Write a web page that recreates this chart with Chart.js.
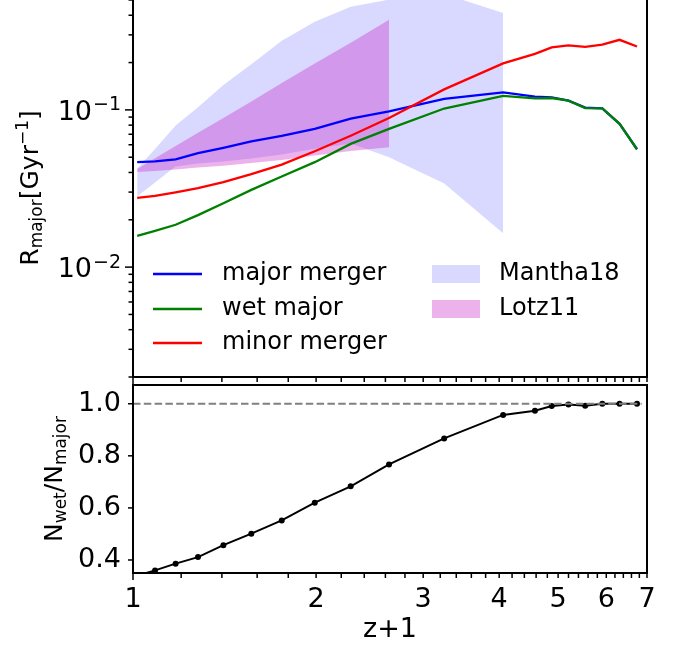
<!DOCTYPE html>
<html>
<head>
<meta charset="utf-8">
<script src="https://cdn.jsdelivr.net/npm/chart.js@4.4.0/dist/chart.umd.min.js"></script>
<style>
  body { margin: 0; background: #fff; }
  #wrap { position: relative; width: 680px; height: 645px; }
  canvas { position: absolute; left: 0; }
  #top { top: 0; }
  #bot { top: 380px; }
</style>
</head>
<body>
<div id="wrap">
  <canvas id="top" width="680" height="386"></canvas>
  <canvas id="bot" width="680" height="265"></canvas>
</div>
<script>
/* ===== DATA ===== */
const zp1        = [1.016, 1.087, 1.175, 1.279, 1.408, 1.565, 1.756, 1.99, 2.28, 2.636, 3.248, 4.06, 4.58, 4.88, 5.20, 5.54, 5.91, 6.31, 6.74];
const majorRate  = [0.0465, 0.0471, 0.0485, 0.053, 0.0574, 0.063, 0.0684, 0.0757, 0.088, 0.098, 0.1175, 0.1294, 0.1214, 0.120, 0.1146, 0.1034, 0.1023, 0.0815, 0.0562];
const wetRate    = [0.0158, 0.0170, 0.0186, 0.0214, 0.0255, 0.0310, 0.0377, 0.0465, 0.0608, 0.0757, 0.102, 0.1227, 0.1185, 0.119, 0.1146, 0.1027, 0.1023, 0.0815, 0.0562];
const minorRate  = [0.0276, 0.0284, 0.0299, 0.0318, 0.0347, 0.039, 0.0449, 0.0546, 0.0684, 0.0889, 0.135, 0.1977, 0.227, 0.25, 0.257, 0.252, 0.26, 0.279, 0.253];
const wetRatio   = [0.34, 0.36, 0.386, 0.411, 0.457, 0.501, 0.552, 0.620, 0.683, 0.767, 0.867, 0.957, 0.973, 0.991, 0.997, 0.992, 1.0, 1.0, 1.0];
const manthaHi   = [0.0424, 0.0564, 0.0795, 0.104, 0.144, 0.195, 0.275, 0.364, 0.453, 0.503, 0.547, 0.413];
const manthaLo   = [0.0281, 0.0345, 0.0436, 0.0456, 0.0470, 0.0491, 0.0520, 0.0567, 0.0611, 0.0500, 0.0340, 0.0164];
const lotzHi     = [0.0421, 0.0492, 0.0590, 0.0715, 0.0887, 0.113, 0.148, 0.197, 0.267, 0.375];
const lotzLo     = [0.0402, 0.0409, 0.0418, 0.0430, 0.0442, 0.0459, 0.0480, 0.0513, 0.0547, 0.0578];
const unityLine  = [[1, 1.0], [6.86, 1.0]];

const xTickVals   = [1, 2, 3, 4, 5, 6, 7];
const xTickLabels = ['1', '2', '3', '4', '5', '6', '7'];
const rateTickVals = [0.01, 0.1];
const rateTickExps = ['\u22122', '\u22121'];
const ratioTickVals   = [0.4, 0.6, 0.8, 1.0];
const ratioTickLabels = ['0.4', '0.6', '0.8', '1.0'];
const legendLines = ['major merger', 'wet major', 'minor merger'];
const legendBands = ['Mantha18', 'Lotz11'];

/* ===== STYLE ===== */
const FONT = '"DejaVu Sans", sans-serif';
const BLUE = '#0000ff', GREEN = '#008000', RED = '#ff0000';
const MANTHA_FILL = 'rgba(0,0,255,0.15)';
const LOTZ_FILL = 'rgba(191,0,191,0.3)';
const CLEAR = 'rgba(0,0,0,0)';

// minor tick positions every 0.2 in z+1, and 2..9 x decade on the rate axis
const xMinor = [];
for (let i = 0; i <= 30; i++) xMinor.push(+(1 + 0.2 * i).toFixed(1));
const yMinor = [];
[-3, -2, -1].forEach(e => { for (let k = 1; k <= 9; k++) { const v = k * Math.pow(10, e); if (v >= 0.002 && v <= 0.5) yMinor.push(v); } });

function pts(ys) { return ys.map((y, i) => ({ x: zp1[i], y })); }

function band(data, fill, bg, order) {
  return { data: pts(data), fill, backgroundColor: bg, borderColor: CLEAR, borderWidth: 0,
           pointRadius: 0, order };
}
function line(data, color, order) {
  return { data: pts(data), borderColor: color, borderWidth: 2.3, pointRadius: 0, fill: false,
           tension: 0, order };
}

function seg(ctx, x1, y1, x2, y2) { ctx.beginPath(); ctx.moveTo(x1, y1); ctx.lineTo(x2, y2); ctx.stroke(); }

// rotated label with sub/superscripts, centred on cy, baseline at bx
function rotLabel(ctx, parts, bx, cy) {
  ctx.save();
  ctx.fillStyle = '#000';
  ctx.textBaseline = 'alphabetic';
  ctx.textAlign = 'left';
  let total = 0;
  parts.forEach(p => { ctx.font = p.s + 'px ' + FONT; p.w = ctx.measureText(p.t).width; total += p.w; });
  ctx.translate(bx, cy);
  ctx.rotate(-Math.PI / 2);
  let x = -total / 2;
  parts.forEach(p => { ctx.font = p.s + 'px ' + FONT; ctx.fillText(p.t, x, p.dy); x += p.w; });
  ctx.restore();
}

function fitY(s) { s.width = 133; s.paddingTop = 0; s.paddingBottom = 0; }

/* ===== TOP PANEL ===== */
const topDeco = {
  id: 'topDeco',
  afterDatasetsDraw(chart) {
    const { ctx, chartArea: a, scales: { x, y } } = chart;
    ctx.save();
    ctx.strokeStyle = '#000';
    ctx.lineWidth = 1.5;
    xMinor.forEach(v => { const px = x.getPixelForValue(v); seg(ctx, px, a.bottom, px, a.bottom + (v === 1 ? 7 : 5)); });
    yMinor.forEach(v => {
      const py = y.getPixelForValue(v);
      const major = rateTickVals.some(m => Math.abs(m - v) < 1e-9);
      seg(ctx, a.left - (major ? 8 : 4.5), py, a.left, py);
    });
    ctx.lineWidth = 2;
    ctx.beginPath();
    ctx.moveTo(a.left, a.top); ctx.lineTo(a.left, a.bottom); ctx.lineTo(a.right, a.bottom); ctx.lineTo(a.right, a.top);
    ctx.stroke();

    // y tick labels 10^-2, 10^-1
    ctx.fillStyle = '#000';
    ctx.textBaseline = 'alphabetic';
    rateTickVals.forEach((v, i) => {
      const py = y.getPixelForValue(v);
      ctx.font = '19px ' + FONT;
      const ws = ctx.measureText(rateTickExps[i]).width;
      ctx.fillText(rateTickExps[i], 121 - ws, py + 0.5);
      ctx.font = '27px ' + FONT;
      const wm = ctx.measureText('10').width;
      ctx.fillText('10', 121 - ws - wm - 1, py + 10);
    });

    // legend
    const rows = [274, 309, 343];
    [BLUE, GREEN, RED].forEach((c, i) => {
      ctx.strokeStyle = c; ctx.lineWidth = 2.3;
      seg(ctx, 153, rows[i], 202, rows[i]);
    });
    ctx.fillStyle = MANTHA_FILL; ctx.fillRect(432, 265, 48, 18);
    ctx.fillStyle = LOTZ_FILL;   ctx.fillRect(432, 300, 48, 18);
    ctx.fillStyle = '#000';
    ctx.font = '24px ' + FONT;
    ctx.textBaseline = 'middle';
    legendLines.forEach((t, i) => ctx.fillText(t, 222, rows[i]));
    legendBands.forEach((t, i) => ctx.fillText(t, 499, rows[i]));
    ctx.restore();

    rotLabel(ctx, [
      { t: 'R', s: 25, dy: 0 }, { t: 'major', s: 17, dy: 4 }, { t: '[Gyr', s: 25, dy: 0 },
      { t: '\u22121', s: 17, dy: -10 }, { t: ']', s: 25, dy: 0 }
    ], 38, 188);
  }
};

new Chart(document.getElementById('top'), {
  type: 'line',
  data: {
    datasets: [
      band(manthaHi, '+1', MANTHA_FILL, 10),
      band(manthaLo, false, CLEAR, 10),
      band(lotzHi, '+1', LOTZ_FILL, 9),
      band(lotzLo, false, CLEAR, 9),
      line(majorRate, BLUE, 3),
      line(wetRate, GREEN, 2),
      line(minorRate, RED, 1)
    ]
  },
  options: {
    responsive: false, animation: false, devicePixelRatio: 1,
    layout: { padding: { left: 0, right: 33, top: 0, bottom: 0 } },
    plugins: { legend: { display: false }, tooltip: { enabled: false } },
    scales: {
      x: {
        type: 'logarithmic', min: 1, max: 7, position: 'bottom',
        grid: { display: false }, border: { display: false },
        ticks: { display: false },
        afterFit(s) { s.height = 386 - 377; s.paddingLeft = 0; s.paddingRight = 0; }
      },
      y: {
        type: 'logarithmic', min: 0.002, max: 0.5,
        grid: { display: false }, border: { display: false },
        afterBuildTicks(s) { s.ticks = rateTickVals.map(v => ({ value: v })); },
        ticks: { display: false },
        afterFit: fitY
      }
    }
  },
  plugins: [topDeco]
});

/* ===== BOTTOM PANEL ===== */
const botDeco = {
  id: 'botDeco',
  afterDatasetsDraw(chart) {
    const { ctx, chartArea: a, scales: { x, y } } = chart;
    ctx.save();
    ctx.strokeStyle = '#000';
    ctx.lineWidth = 1.5;
    xMinor.forEach(v => { const px = x.getPixelForValue(v); seg(ctx, px, a.bottom, px, a.bottom + (v === 1 ? 7 : 5)); });
    ratioTickVals.forEach(v => { const py = y.getPixelForValue(v); seg(ctx, a.left - 5, py, a.left, py); });
    ctx.lineWidth = 2;
    ctx.strokeRect(a.left, a.top, a.right - a.left, a.bottom - a.top);

    ctx.fillStyle = '#000';
    ctx.font = '27px ' + FONT;
    ctx.textAlign = 'center';
    ctx.textBaseline = 'alphabetic';
    ctx.fillText('z+1', (a.left + a.right) / 2, 257);
    ctx.restore();

    rotLabel(ctx, [
      { t: 'N', s: 25, dy: 0 }, { t: 'wet', s: 17, dy: 4 }, { t: '/N', s: 25, dy: 0 },
      { t: 'major', s: 17, dy: 4 }
    ], 62, (a.top + a.bottom) / 2);
  }
};

new Chart(document.getElementById('bot'), {
  type: 'line',
  data: {
    datasets: [
      { data: unityLine.map(p => ({ x: p[0], y: p[1] })), borderColor: '#808080', borderWidth: 2,
        borderDash: [7.5, 3.3], pointRadius: 0, fill: false, order: 0 },
      { data: pts(wetRatio), borderColor: '#000', borderWidth: 2, pointRadius: 3,
        pointBackgroundColor: '#000', pointBorderWidth: 0, fill: false, order: 1 }
    ]
  },
  options: {
    responsive: false, animation: false, devicePixelRatio: 1,
    layout: { padding: { left: 0, right: 33, top: 5, bottom: 0 } },
    plugins: { legend: { display: false }, tooltip: { enabled: false } },
    scales: {
      x: {
        type: 'logarithmic', min: 1, max: 7, position: 'bottom',
        grid: { display: false, drawTicks: true, tickLength: 7 }, border: { display: false },
        afterBuildTicks(s) { s.ticks = xTickVals.map(v => ({ value: v })); },
        ticks: {
          autoSkip: false, maxRotation: 0, padding: 4, color: '#000', font: { family: FONT, size: 27 },
          callback: (v) => xTickLabels[xTickVals.indexOf(Math.round(v))]
        },
        afterFit(s) { s.height = 265 - 193; s.paddingLeft = 0; s.paddingRight = 0; }
      },
      y: {
        type: 'linear', min: 0.35, max: 1.072,
        grid: { display: false, drawTicks: true, tickLength: 8 }, border: { display: false },
        afterBuildTicks(s) { s.ticks = ratioTickVals.map(v => ({ value: v })); },
        ticks: {
          padding: 4, color: '#000', font: { family: FONT, size: 27 },
          callback: (v) => ratioTickLabels[ratioTickVals.findIndex(m => Math.abs(m - v) < 1e-9)]
        },
        afterFit: fitY
      }
    }
  },
  plugins: [botDeco]
});
</script>
</body>
</html>
